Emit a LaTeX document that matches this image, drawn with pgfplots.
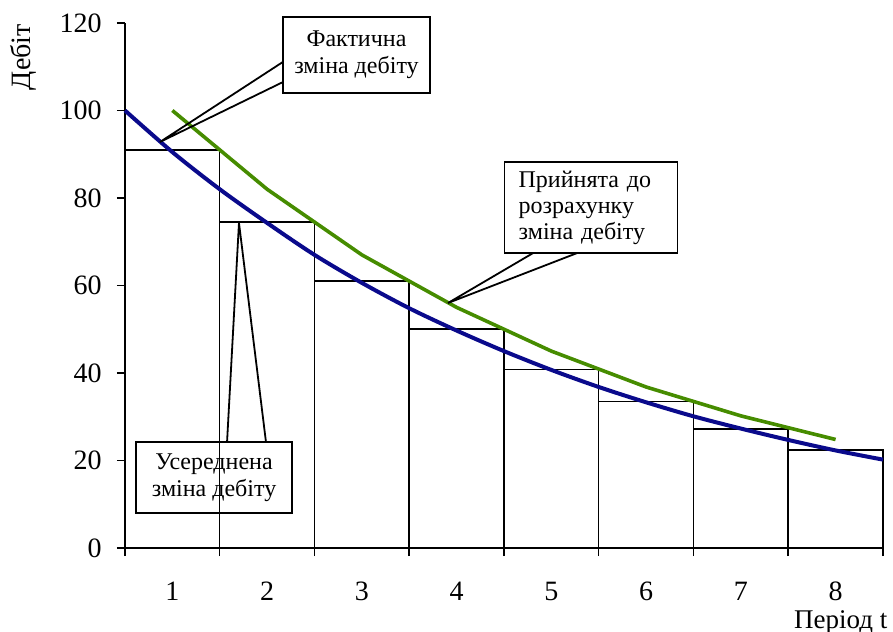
\documentclass[border=0pt]{standalone}
\usepackage{fontspec}
\setmainfont{Liberation Serif}
\usepackage{pgfplots}
\pgfplotsset{compat=1.18}
\definecolor{navy}{RGB}{10,10,140}
\definecolor{grn}{RGB}{70,140,0}
\begin{document}
\begin{tikzpicture}
\begin{axis}[name=ax, width=379pt, height=262.5pt, scale only axis,
 xmin=0.5, xmax=8.5, ymin=0, ymax=120,
 axis x line*=bottom, axis y line*=left,
 axis line style={line width=0.75pt},
 every tick/.style={black, line width=0.75pt},
 tick align=outside, major tick length=4pt,
 xtick={0.5,1.5,2.5,3.5,4.5,5.5,6.5,7.5,8.5}, xticklabels={,,,,,,,,},
 extra x ticks={1,2,3,4,5,6,7,8},
 extra x tick labels={1,2,3,4,5,6,7,8},
 extra x tick style={major tick length=0pt, xticklabel style={anchor=base, yshift=-26pt}},
 ytick={0,20,...,120},
 yticklabel style={anchor=east, inner sep=0pt, xshift=-7.5pt},
 tick label style={font=\fontsize{14}{16}\selectfont},
 /pgf/number format/assume math mode=true,
 clip=false,
]
\addplot[ybar interval, draw=black, line width=0.75pt] coordinates {
(0.5,91) (1.5,74.5) (2.5,61) (3.5,50) (4.5,40.8) (5.5,33.5) (6.5,27.2) (7.5,22.4) (8.5,22.4)};
\addplot[navy, line width=2pt, smooth] coordinates {
(0.5,100) (1,90.5) (1.5,82) (2,74.3) (2.5,67) (3,60.6) (3.5,54.8) (4,49.7) (4.5,45) (5,40.7) (5.5,36.8) (6,33.3) (6.5,30.1) (7,27.3) (7.5,24.7) (8,22.3) (8.5,20.2)};
\addplot[grn, line width=1.8pt] coordinates {
(1,100) (2,82) (3,67) (4,55) (5,45) (6,36.8) (7,30.2) (8,24.8)};

\draw[line width=0.9pt] (axis cs:2.167,111.1) -- (axis cs:0.869,92.8) -- (axis cs:2.167,106.5);
\draw[line width=0.9pt] (axis cs:4.806,67.4) -- (axis cs:3.909,56.0) -- (axis cs:5.270,67.4);
\draw[line width=0.9pt] (axis cs:1.577,24.2) -- (axis cs:1.703,74.3) -- (axis cs:1.988,24.2);

\node[draw, line width=0.8pt, fill=white, minimum width=73.5pt, minimum height=38pt, align=center, font=\fontsize{12}{13.5}\selectfont] at (axis cs:2.943,112.7) {Фактична\\зміна дебіту};
\node[draw, line width=0.8pt, fill=white, text width=72.5pt, inner xsep=7pt, minimum height=45.5pt, align=left, font=\fontsize{12}{13}\selectfont] at (axis cs:5.42,77.8) {Прийнята до\\розрахунку\\зміна дебіту};
\node[draw, line width=0.8pt, minimum width=78pt, minimum height=35.5pt, align=center, font=\fontsize{12}{13.5}\selectfont] at (axis cs:1.44,16.1) {Усереднена\\зміна дебіту};

\node[rotate=90, font=\fontsize{14}{16}\selectfont] at (axis cs:-0.57,112.2) {Дебіт};
\node[anchor=base east, inner sep=0pt, font=\fontsize{13.5}{16}\selectfont] at (axis cs:8.55,-18.3) {Період t};
\end{axis}
\pgfresetboundingbox
\useasboundingbox (ax.south west) ++(-62.5pt,-41.5pt) rectangle ++(446.5pt,315.5pt);
\end{tikzpicture}
\end{document}
